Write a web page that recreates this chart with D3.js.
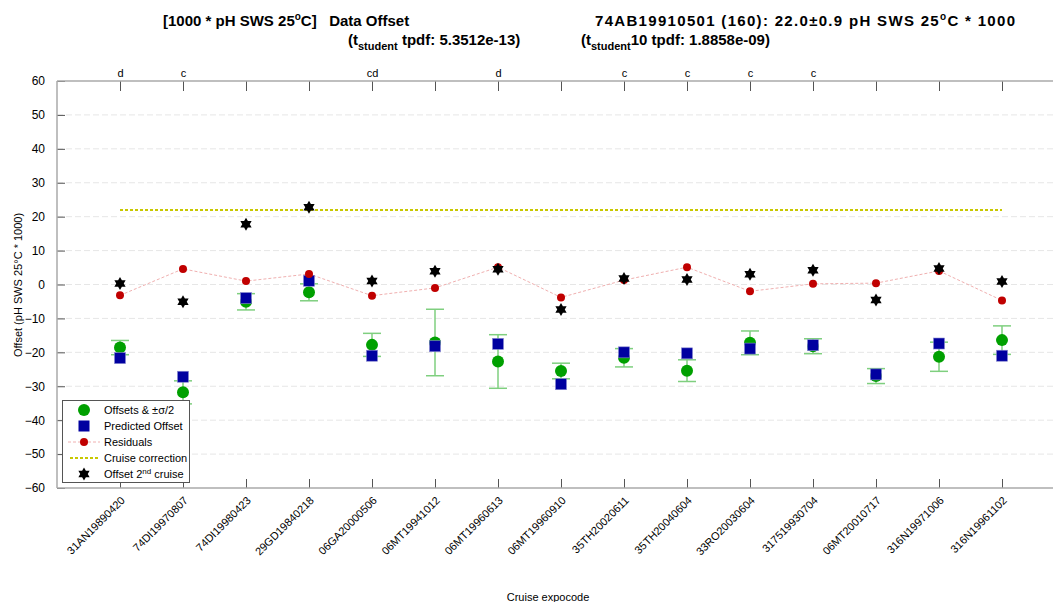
<!DOCTYPE html>
<html><head><meta charset="utf-8">
<script src="https://cdn.jsdelivr.net/npm/d3@7"></script>
<style>body{margin:0;background:#fff;} svg{display:block;font-family:"Liberation Sans",Arial,sans-serif;}</style>
</head><body>
<svg id="c" width="1053" height="602"></svg>
<script>
const cruises = ["31AN19890420","74DI19970807","74DI19980423","29GD19840218","06GA20000506","06MT19941012","06MT19960613","06MT19960910","35TH20020611","35TH20040604","33RO20030604","317519930704","06MT20010717","316N19971006","316N19961102"];
const offsets   = [-18.6,-31.8,-5.1,-2.3,-17.8,-17.1,-22.7,-25.5,-21.6,-25.4,-17.2,-18.2,-27.0,-21.3,-16.4];
const halfSigma = [2.1,3.4,2.4,2.5,3.4,9.8,7.9,2.3,2.7,3.2,3.5,2.2,2.2,4.3,4.2];
const predicted = [-21.7,-27.2,-4.0,1.1,-21.0,-18.2,-17.5,-29.4,-20.0,-20.3,-18.9,-17.9,-26.5,-17.4,-21.0];
const residuals = [-3.2,4.6,1.0,3.1,-3.3,-1.0,5.1,-3.8,1.3,5.1,-2.0,0.2,0.4,4.0,-4.7];
const offset2nd = [0.3,-5.1,17.8,22.8,1.0,3.9,4.5,-7.4,1.8,1.5,3.0,4.2,-4.6,4.7,0.9];
const topMarks  = ["d","c","","","cd","","d","","c","c","c","c","","",""];
const correction = 22.0;
const yTicks = [60,50,40,30,20,10,0,-10,-20,-30,-40,-50,-60];

const svg = d3.select("#c");
const x = d3.scaleLinear().domain([0,16]).range([57,1065]);
const y = d3.scaleLinear().domain([-60,60]).range([488,81]);
const idx = d3.range(1, cruises.length+1);

// gridlines
svg.append("g").selectAll("line").data(yTicks.filter(t=>t!==60 && t!==-60)).join("line")
  .attr("x1",57).attr("x2",1053).attr("y1",d=>y(d)).attr("y2",d=>y(d))
  .attr("stroke","#e6e6e6").attr("stroke-dasharray","6,3").attr("stroke-width",1);

// axes
const gy = svg.append("g").attr("transform","translate(57,0)")
  .call(d3.axisLeft(y).tickValues(yTicks).tickSize(-8).tickPadding(12).tickFormat(d3.format("d")));
gy.select(".domain").remove();
gy.selectAll(".tick line").attr("stroke","#555");
gy.selectAll("text").attr("font-size",12).attr("fill","#000").attr("font-family","Liberation Sans, Arial");

const gb = svg.append("g").attr("transform","translate(0,488)")
  .call(d3.axisBottom(x).tickValues(idx).tickSize(-9).tickFormat((d)=>cruises[d-1]));
gb.select(".domain").remove();
gb.selectAll(".tick line").attr("stroke","#555");
gb.selectAll("text").attr("font-size",11).attr("fill","#000").attr("font-family","Liberation Sans, Arial")
  .attr("text-anchor","end").attr("dy",0).attr("transform","translate(3,11) rotate(-45)");

const gt = svg.append("g").attr("transform","translate(0,81)")
  .call(d3.axisTop(x).tickValues(idx).tickSize(-10).tickPadding(4).tickFormat(d=>topMarks[d-1]));
gt.select(".domain").remove();
gt.selectAll(".tick line").attr("stroke","#555");
gt.selectAll("text").attr("font-size",11).attr("fill","#000").attr("font-family","Liberation Sans, Arial");

// frame lines
svg.append("line").attr("x1",57).attr("x2",1053).attr("y1",81).attr("y2",81).attr("stroke","#aaa").attr("stroke-width",1.5);
svg.append("line").attr("x1",57).attr("x2",1053).attr("y1",488).attr("y2",488).attr("stroke","#aaa").attr("stroke-width",1.5);
svg.append("line").attr("x1",57).attr("x2",57).attr("y1",81).attr("y2",488).attr("stroke","#aaa").attr("stroke-width",1.5);

// cruise correction
svg.append("line").attr("x1",x(1)).attr("x2",x(cruises.length)).attr("y1",y(correction)).attr("y2",y(correction))
  .attr("stroke","#c8c800").attr("stroke-width",2).attr("stroke-dasharray","3,2");

// residual line
svg.append("path").datum(residuals).attr("fill","none").attr("stroke","#f0b0b0").attr("stroke-width",1)
  .attr("stroke-dasharray","3,2")
  .attr("d", d3.line().x((d,i)=>x(i+1)).y(d=>y(d)));

// error bars
const eb = svg.append("g").attr("stroke","#7fcf7f").attr("stroke-width",1.5);
offsets.forEach((v,i)=>{
  const cx = x(i+1), t = y(v+halfSigma[i]), b = y(v-halfSigma[i]);
  eb.append("line").attr("x1",cx).attr("x2",cx).attr("y1",t).attr("y2",b);
  eb.append("line").attr("x1",cx-9).attr("x2",cx+9).attr("y1",t).attr("y2",t);
  eb.append("line").attr("x1",cx-9).attr("x2",cx+9).attr("y1",b).attr("y2",b);
});

// hexagram symbol
const hexagram = {draw(ctx, size){
  const r = Math.sqrt(size)*0.62;
  for (let k=0;k<2;k++){
    for (let j=0;j<3;j++){
      const a = -Math.PI/2 + k*Math.PI + j*2*Math.PI/3;
      const px = r*Math.cos(a), py = r*Math.sin(a);
      if (j===0) ctx.moveTo(px,py); else ctx.lineTo(px,py);
    }
    ctx.closePath();
  }
}};

// green offsets
svg.append("g").selectAll("circle").data(offsets).join("circle")
  .attr("cx",(d,i)=>x(i+1)).attr("cy",d=>y(d)).attr("r",6).attr("fill","#00a000");
// predicted squares
svg.append("g").selectAll("rect").data(predicted).join("rect")
  .attr("x",(d,i)=>x(i+1)-5.5).attr("y",d=>y(d)-5.5).attr("width",11).attr("height",11)
  .attr("fill","#0000a0").attr("stroke","#8888d0").attr("stroke-width",0.6);
// residual dots
svg.append("g").selectAll("circle").data(residuals).join("circle")
  .attr("cx",(d,i)=>x(i+1)).attr("cy",d=>y(d)).attr("r",4).attr("fill","#c00000");
// 2nd cruise stars
svg.append("g").selectAll("path").data(offset2nd).join("path")
  .attr("transform",(d,i)=>`translate(${x(i+1)},${y(d)})`)
  .attr("d", d3.symbol().type(hexagram).size(110)).attr("fill","#000").attr("fill-rule","nonzero");

// legend
const lg = svg.append("g");
lg.append("rect").attr("x",62.5).attr("y",400.5).attr("width",127).attr("height",82).attr("fill","#fff").attr("stroke","#555");
const ly = [410,426,442,458,474];
const names = ["Offsets & \u00b1\u03c3/2","Predicted Offset","Residuals","Cruise correction",null];
lg.append("circle").attr("cx",84).attr("cy",ly[0]).attr("r",6).attr("fill","#00a000");
lg.append("rect").attr("x",78.5).attr("y",ly[1]-5.5).attr("width",11).attr("height",11).attr("fill","#0000a0");
lg.append("line").attr("x1",68).attr("x2",100).attr("y1",ly[2]).attr("y2",ly[2]).attr("stroke","#f0b0b0").attr("stroke-dasharray","3,2");
lg.append("circle").attr("cx",84).attr("cy",ly[2]).attr("r",4).attr("fill","#c00000");
lg.append("line").attr("x1",70).attr("x2",100).attr("y1",ly[3]).attr("y2",ly[3]).attr("stroke","#c8c800").attr("stroke-width",2).attr("stroke-dasharray","3,2");
lg.append("path").attr("transform",`translate(84,${ly[4]})`).attr("d", d3.symbol().type(hexagram).size(110)).attr("fill","#000");
names.forEach((n,i)=>{ if(n) lg.append("text").attr("x",104).attr("y",ly[i]+4).attr("font-size",11).text(n); });
const t5 = lg.append("text").attr("x",104).attr("y",ly[4]+4).attr("font-size",11);
t5.append("tspan").text("Offset 2");
t5.append("tspan").attr("dy",-4).attr("font-size",8).text("nd");
t5.append("tspan").attr("dy",4).text(" cruise");

// axis titles
svg.append("text").attr("transform","translate(22,285) rotate(-90)").attr("text-anchor","middle").attr("font-size",11)
  .text("Offset (pH SWS 25\u00b0C * 1000)");
svg.append("text").attr("x",548).attr("y",601).attr("text-anchor","middle").attr("font-size",11).text("Cruise expocode");

// titles
const T = svg.append("g").attr("font-weight","bold").attr("font-size",15);
const a1 = T.append("text").attr("x",163).attr("y",26).attr("xml:space","preserve");
a1.append("tspan").text("[1000 * pH SWS 25");
a1.append("tspan").attr("dy",-6).attr("font-size",10).text("o");
a1.append("tspan").attr("dy",6).text("C]   Data Offset");
const a2 = T.append("text").attr("x",348).attr("y",45);
a2.append("tspan").text("(t");
a2.append("tspan").attr("dy",5).attr("font-size",11).text("student");
a2.append("tspan").attr("dy",-5).text(" tpdf: 5.3512e-13)");
const b1 = T.append("text").attr("x",595).attr("y",26).attr("textLength",420).attr("lengthAdjust","spacing");
b1.append("tspan").text("74AB19910501 (160): 22.0\u00b10.9 pH SWS 25");
b1.append("tspan").attr("dy",-6).attr("font-size",10).text("o");
b1.append("tspan").attr("dy",6).text("C * 1000");
const b2 = T.append("text").attr("x",581).attr("y",45);
b2.append("tspan").text("(t");
b2.append("tspan").attr("dy",5).attr("font-size",11).text("student");
b2.append("tspan").attr("dy",-5).text("10 tpdf: 1.8858e-09)");
</script>
</body></html>
